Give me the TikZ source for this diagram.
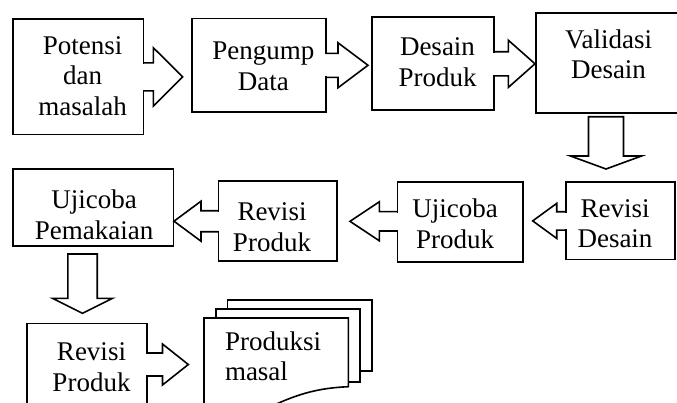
\documentclass[tikz,border=0pt]{standalone}
\usepackage{fontspec}
\setmainfont{Liberation Serif}
\usetikzlibrary{calc}
\tikzset{
  box/.style={draw, line width=1.6pt, fill=white, rectangle, inner sep=0pt, outer sep=0pt},
  lbl/.style={inner sep=0pt, outer sep=0pt, align=center, font=\fontsize{27pt}{30.5pt}\selectfont},
  arr/.style={draw, line width=1.6pt, line join=miter},
}
% right block arrow: src, cy, shaft half, shaft end x, head half, target anchor, gap
\newcommand\rarr[7]{%
  \fill[white] ($(#1.east |- 0,#2)+(-1.3,-#3+0.9)$) rectangle ($(#1.east |- 0,#2)+(1.3,#3-0.9)$);
  \draw[arr] (#1.east |- 0,#2-#3) -- (#4,#2-#3) -- (#4,#2-#5) -- ($(#6 |- 0,#2)+(-#7,0)$) -- (#4,#2+#5) -- (#4,#2+#3) -- (#1.east |- 0,#2+#3);
}
% left block arrow
\newcommand\larr[7]{%
  \fill[white] ($(#1.west |- 0,#2)+(-1.3,-#3+0.9)$) rectangle ($(#1.west |- 0,#2)+(1.3,#3-0.9)$);
  \draw[arr] (#1.west |- 0,#2-#3) -- (#4,#2-#3) -- (#4,#2-#5) -- ($(#6 |- 0,#2)+(#7,0)$) -- (#4,#2+#5) -- (#4,#2+#3) -- (#1.west |- 0,#2+#3);
}
% down block arrow: src, cx, shaft half, top gap, shaft end y, head half, target anchor, bottom gap
\newcommand\darr[8]{%
  \draw[arr, fill=white] ($(#1.south -| #2,0)+(-#3,#4)$) -- ($(#1.south -| #2,0)+(#3,#4)$) -- (#2+#3,#5) -- (#2+#6,#5) -- ($(#7 -| #2,0)+(0,-#8)$) -- (#2-#6,#5) -- (#2-#3,#5) -- cycle;
}
\begin{document}
\begin{tikzpicture}[x=1pt,y=-1pt]
\useasboundingbox (0,0) rectangle (677,402);
\clip (0,0) rectangle (677,402);

% boxes
\node[box, minimum width=130.6pt, minimum height=115.3pt] (b1) at (78,76.65) {};
\node[box, minimum width=134.3pt, minimum height=93.4pt] (b2) at (258.85,65) {};
\node[box, minimum width=122.3pt, minimum height=93.3pt] (b3) at (432.85,63.35) {};
\node[box, minimum width=143.3pt, minimum height=100pt] (b4) at (607.35,62.7) {};
\node[box, minimum width=109pt, minimum height=77.6pt] (b5) at (620.5,220.5) {};
\node[box, minimum width=125.4pt, minimum height=80pt] (b6) at (460,221.7) {};
\node[box, minimum width=118.7pt, minimum height=80.3pt] (b7) at (277.65,220.85) {};
\node[box, minimum width=160.6pt, minimum height=76.7pt] (b8) at (93,207.35) {};
\node[box, minimum width=120pt, minimum height=86.7pt] (b9) at (86.7,366.65) {};

% multi-document
\draw[arr, fill=white] (227.3,300) rectangle (371.7,371);
\draw[arr, fill=white] (216,309) rectangle (360,381.7);
\draw[arr, fill=white] (204,318) -- (348.3,318) -- (348.3,386.7) .. controls (318,388) and (298,394) .. (272,406) -- (204,420) -- cycle;
\coordinate (d1) at (204,360);

% texts
\node[lbl] (t1) at (82.7,75.8) {Potensi\\dan\\masalah};
\node[lbl] (t2) at (263.3,66.4) {Pengump\\Data};
\node[lbl] (t3) at (437.5,62) {Desain\\Produk};
\node[lbl] (t4) at (608.5,54.5) {Validasi\\Desain};
\node[lbl] (t5) at (615,223.7) {Revisi\\Desain};
\node[lbl] (t6) at (455,223.7) {Ujicoba\\Produk};
\node[lbl] (t7) at (272,227) {Revisi\\Produk};
\node[lbl] (t8) at (94.2,214.6) {Ujicoba\\Pemakaian};
\node[lbl] (t9) at (91.5,367) {Revisi\\Produk};
\node[lbl, align=left, anchor=west] (t10) at (225,356.5) {Produksi\\masal};

% block arrows
\rarr{b1}{76.9}{14}{153.3}{29.2}{b2.west}{9}
\rarr{b2}{65.3}{12}{338}{22.5}{b3.west}{3.7}
\rarr{b3}{63.8}{12.1}{508.3}{23.6}{b4.west}{0.7}
\darr{b4}{606}{17.5}{4}{156}{35.5}{b5.north}{12.7}
\larr{b5}{220.9}{9.2}{556.7}{17.5}{b6.east}{10}
\larr{b6}{221.3}{9.7}{379.3}{19.5}{b7.east}{13}
\larr{b7}{221.2}{10.5}{201}{20}{b8.east}{0.7}
\darr{b8}{82.5}{14.7}{8.3}{298.3}{30}{b9.north}{10}
\rarr{b9}{364.5}{11.5}{162.5}{20.5}{d1}{15.7}
\end{tikzpicture}
\end{document}
